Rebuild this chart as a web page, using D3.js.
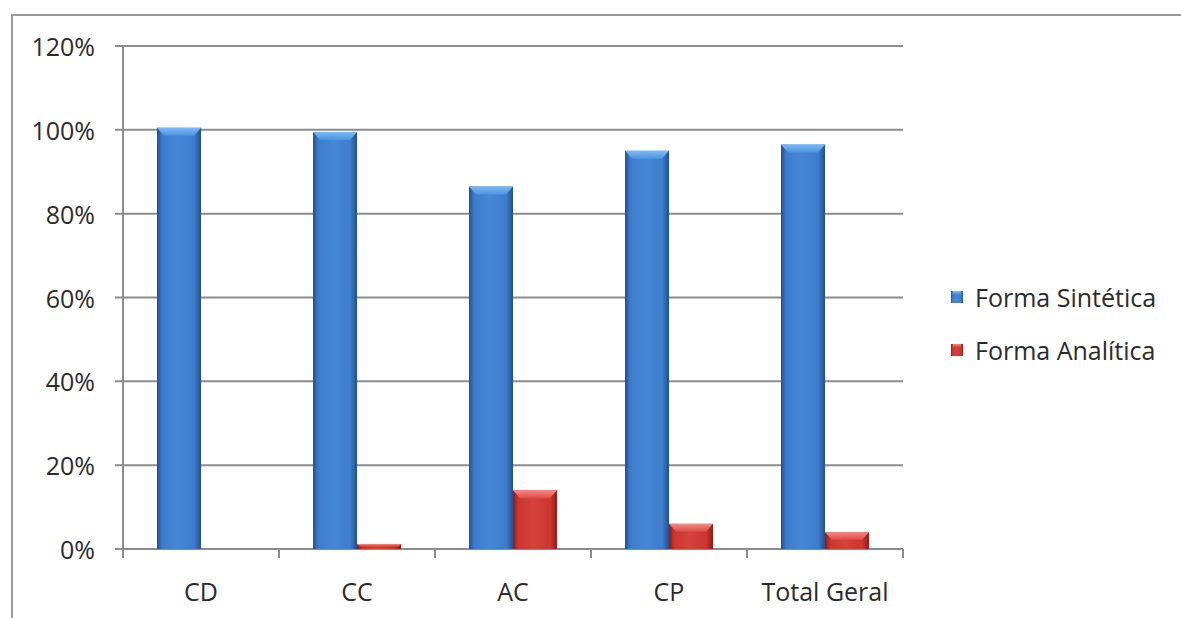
<!DOCTYPE html>
<html>
<head>
<meta charset="utf-8">
<script src="https://cdn.jsdelivr.net/npm/d3@7"></script>
<style>
  html, body { margin: 0; padding: 0; background: #fff; }
  svg { display: block; }
  text { font-family: "Open Sans", sans-serif; fill: #2b2b2b; }
</style>
</head>
<body>
<svg id="chart" width="1181" height="618"></svg>
<script>
// Categories and series (share of each form, in %)
const categories = ["CD", "CC", "AC", "CP", "Total Geral"];
const sinteticaValues = [100.5, 99.5, 86.5, 95, 96.5];
const analiticaValues = [0, 1.2, 14, 6, 4];
const seriesNames = ["Forma Sintética", "Forma Analítica"];
const yTicks = [0, 20, 40, 60, 80, 100, 120];

const svg = d3.select("#chart");
const W = 1181, H = 618;
const plot = { left: 123, right: 903, top: 46, bottom: 549 };

// Chart frame
svg.append("rect")
  .attr("x", 12).attr("y", 15)
  .attr("width", W + 20).attr("height", H + 20)
  .attr("fill", "none").attr("stroke", "#9a9a9a").attr("stroke-width", 2);

const x0 = d3.scaleBand()
  .domain(categories)
  .range([plot.left, plot.right])
  .paddingInner(0.436)
  .paddingOuter(0.218);

const x1 = d3.scaleBand()
  .domain(seriesNames)
  .range([0, x0.bandwidth()]);

const y = d3.scaleLinear().domain([0, 120]).range([plot.bottom, plot.top]);

// Gradients for the bevelled bars
const defs = svg.append("defs");
const palettes = {
  blue: { edge: "#21508f", mid: "#3c7ccb", light: "#4588d6", cap1: "#7cbaf5", cap2: "#4d93e0" },
  red:  { edge: "#8e1a17", mid: "#cc3531", light: "#d6423d", cap1: "#f48a84", cap2: "#dd4a44" }
};
Object.entries(palettes).forEach(([k, p]) => {
  const g = defs.append("linearGradient").attr("id", "face-" + k)
    .attr("x1", "0%").attr("x2", "100%").attr("y1", "0%").attr("y2", "0%");
  [[0, p.edge], [0.12, p.mid], [0.45, p.light], [0.85, p.mid], [1, p.edge]]
    .forEach(([o, c]) => g.append("stop").attr("offset", o).attr("stop-color", c));
  const c = defs.append("linearGradient").attr("id", "cap-" + k)
    .attr("x1", "0%").attr("x2", "0%").attr("y1", "0%").attr("y2", "100%");
  c.append("stop").attr("offset", 0).attr("stop-color", p.cap1);
  c.append("stop").attr("offset", 1).attr("stop-color", p.cap2);
});

// Gridlines with left tick stubs
svg.append("g").selectAll("line").data(yTicks).join("line")
  .attr("x1", plot.left - 8).attr("x2", plot.right)
  .attr("y1", d => y(d)).attr("y2", d => y(d))
  .attr("stroke", "#8c8c8c").attr("stroke-width", 2);

// Y axis line
svg.append("line")
  .attr("x1", plot.left).attr("x2", plot.left)
  .attr("y1", y(120)).attr("y2", y(0) + 9)
  .attr("stroke", "#8c8c8c").attr("stroke-width", 2);

// X axis category separators
const sepX = categories.map(c => x0(c) - x0.step() * x0.paddingOuter()).concat([plot.right]);
svg.append("g").selectAll("line").data(sepX).join("line")
  .attr("x1", d => d).attr("x2", d => d)
  .attr("y1", y(0)).attr("y2", y(0) + 9)
  .attr("stroke", "#8c8c8c").attr("stroke-width", 2);

// Y tick labels
svg.append("g").selectAll("text").data(yTicks).join("text")
  .attr("x", 95).attr("y", d => y(d))
  .attr("text-anchor", "end").attr("dominant-baseline", "central")
  .attr("font-size", 25)
  .text(d => d + "%");

// X labels
svg.append("g").selectAll("text").data(categories).join("text")
  .attr("x", d => x0(d) + x0.bandwidth() / 2).attr("y", 591)
  .attr("text-anchor", "middle").attr("dominant-baseline", "central")
  .attr("font-size", 25)
  .text(d => d);

// Bars
const rows = categories.map((c, i) => ({
  cat: c,
  vals: [
    { s: seriesNames[0], v: sinteticaValues[i], pal: "blue" },
    { s: seriesNames[1], v: analiticaValues[i], pal: "red" }
  ]
}));

const groups = svg.append("g").selectAll("g").data(rows).join("g")
  .attr("transform", d => `translate(${x0(d.cat)},0)`);

const bars = groups.selectAll("g").data(d => d.vals.filter(v => v.v > 0)).join("g");

bars.append("rect")
  .attr("x", d => x1(d.s)).attr("width", x1.bandwidth())
  .attr("y", d => y(d.v)).attr("height", d => y(0) - y(d.v))
  .attr("fill", d => `url(#face-${d.pal})`);

bars.append("path")
  .attr("d", d => {
    const x = x1(d.s), w = x1.bandwidth(), t = y(d.v);
    const h = Math.min(8, (y(0) - t) * 0.45), inset = Math.min(7, h);
    return `M${x},${t}L${x + w},${t}L${x + w - inset},${t + h}L${x + inset},${t + h}Z`;
  })
  .attr("fill", d => `url(#cap-${d.pal})`);

// Legend
const legend = svg.append("g").selectAll("g").data(seriesNames).join("g")
  .attr("transform", (d, i) => `translate(951,${297 + i * 53})`);
legend.append("rect")
  .attr("x", 0).attr("y", -6).attr("width", 12).attr("height", 12)
  .attr("fill", (d, i) => `url(#face-${i === 0 ? "blue" : "red"})`);
legend.append("rect")
  .attr("x", 2).attr("y", -6).attr("width", 8).attr("height", 3)
  .attr("fill", (d, i) => `url(#cap-${i === 0 ? "blue" : "red"})`);
legend.append("text")
  .attr("x", 24).attr("y", 0)
  .attr("dominant-baseline", "central")
  .attr("font-size", 25)
  .text(d => d);
</script>
</body>
</html>
